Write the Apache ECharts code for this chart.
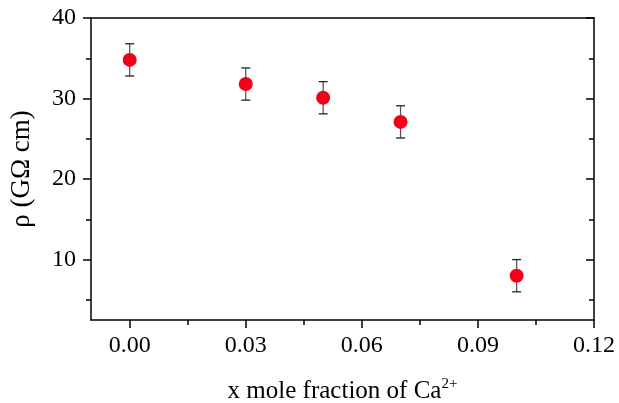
<!DOCTYPE html>
<html><head><meta charset="utf-8">
<script src="https://cdn.jsdelivr.net/npm/echarts@6/dist/echarts.min.js"></script>
<style>html,body{margin:0;padding:0;background:#fff}#c{width:619px;height:403px}</style>
</head><body><div id="c"></div>
<script>
const xValues = [0.00, 0.03, 0.05, 0.07, 0.10];
const rhoValues = [34.8, 31.8, 30.1, 27.1, 8.0];
const rhoErrors = [2.0, 2.0, 2.0, 2.0, 2.0];
const xMajorTicks = [0.00, 0.03, 0.06, 0.09, 0.12];
const xMinorTicks = [0.015, 0.045, 0.075, 0.105];
const yMajorTicks = [10, 20, 30, 40];
const yMinorTicks = [5, 15, 25, 35];

const font = 'Liberation Serif';
const chart = echarts.init(document.getElementById('c'));
const axisLine = {show: true, onZero: false, lineStyle: {color: '#000', width: 1.5}};
const noLine = {show: false, onZero: false};
const tickStyle = {color: '#000', width: 1.5};
const X = {min: -0.01, max: 0.12};
const Y = {min: 2.5, max: 40};

chart.setOption({
  animation: false,
  grid: {left: 91, right: 25, top: 18, bottom: 83, show: false, containLabel: false, outerBoundsMode: 'none'},
  xAxis: [
    Object.assign({type: 'value', position: 'bottom', axisLine,
      splitLine: {show: false},
      axisTick: {show: true, inside: false, length: 8, customValues: xMajorTicks, lineStyle: tickStyle},
      axisLabel: {show: true, customValues: xMajorTicks, margin: 14, color: '#000', fontFamily: font, fontSize: 24,
        formatter: v => v.toFixed(2)},
      name: '{a|x mole fraction of Ca}{s|2+}', nameLocation: 'middle', nameGap: 57,
      nameTextStyle: {rich: {a: {fontFamily: font, fontSize: 25, color: '#000'},
                             s: {fontFamily: font, fontSize: 15, color: '#000', verticalAlign: 'top', padding: [0,0,14,0]}}}
    }, X),
    Object.assign({type: 'value', position: 'bottom', axisLine: noLine, splitLine: {show: false},
      axisTick: {show: true, inside: false, length: 5, customValues: xMinorTicks, lineStyle: tickStyle},
      axisLabel: {show: false}}, X),
    Object.assign({type: 'value', position: 'top', axisLine, splitLine: {show: false},
      axisTick: {show: false}, axisLabel: {show: false}}, X)
  ],
  yAxis: [
    Object.assign({type: 'value', position: 'left', axisLine, splitLine: {show: false},
      axisTick: {show: true, inside: false, length: 8, customValues: yMajorTicks, lineStyle: tickStyle},
      axisLabel: {show: true, customValues: yMajorTicks, margin: 15, color: '#000', fontFamily: font, fontSize: 24},
      name: 'ρ (GΩ cm)', nameLocation: 'middle', nameGap: 56, nameRotate: 90,
      nameTextStyle: {fontFamily: font, fontSize: 27, color: '#000'}
    }, Y),
    Object.assign({type: 'value', position: 'left', axisLine: noLine, splitLine: {show: false},
      axisTick: {show: true, inside: false, length: 5, customValues: yMinorTicks, lineStyle: tickStyle},
      axisLabel: {show: false}}, Y),
    Object.assign({type: 'value', position: 'right', axisLine, splitLine: {show: false},
      axisTick: {show: true, inside: true, length: 8, customValues: yMajorTicks, lineStyle: tickStyle},
      axisLabel: {show: false}}, Y),
    Object.assign({type: 'value', position: 'right', axisLine: noLine, splitLine: {show: false},
      axisTick: {show: true, inside: true, length: 5, customValues: yMinorTicks, lineStyle: tickStyle},
      axisLabel: {show: false}}, Y)
  ],
  series: [
    {
      type: 'custom', xAxisIndex: 0, yAxisIndex: 0, z: 1,
      data: xValues.map((x, i) => [x, rhoValues[i] - rhoErrors[i], rhoValues[i] + rhoErrors[i]]),
      renderItem: (params, api) => {
        const lo = api.coord([api.value(0), api.value(1)]);
        const hi = api.coord([api.value(0), api.value(2)]);
        const w = 4.5;
        const st = {stroke: '#222', lineWidth: 1.3};
        return {type: 'group', children: [
          {type: 'line', shape: {x1: lo[0], y1: lo[1], x2: hi[0], y2: hi[1]}, style: {stroke: '#555', lineWidth: 1.3}},
          {type: 'line', shape: {x1: lo[0]-w, y1: lo[1], x2: lo[0]+w, y2: lo[1]}, style: st},
          {type: 'line', shape: {x1: hi[0]-w, y1: hi[1], x2: hi[0]+w, y2: hi[1]}, style: st}
        ]};
      }
    },
    {
      type: 'scatter', xAxisIndex: 0, yAxisIndex: 0, z: 2,
      data: xValues.map((x, i) => [x, rhoValues[i]]),
      symbol: 'circle', symbolSize: 14,
      itemStyle: {color: '#f20019', opacity: 1}
    }
  ]
});
</script></body></html>
